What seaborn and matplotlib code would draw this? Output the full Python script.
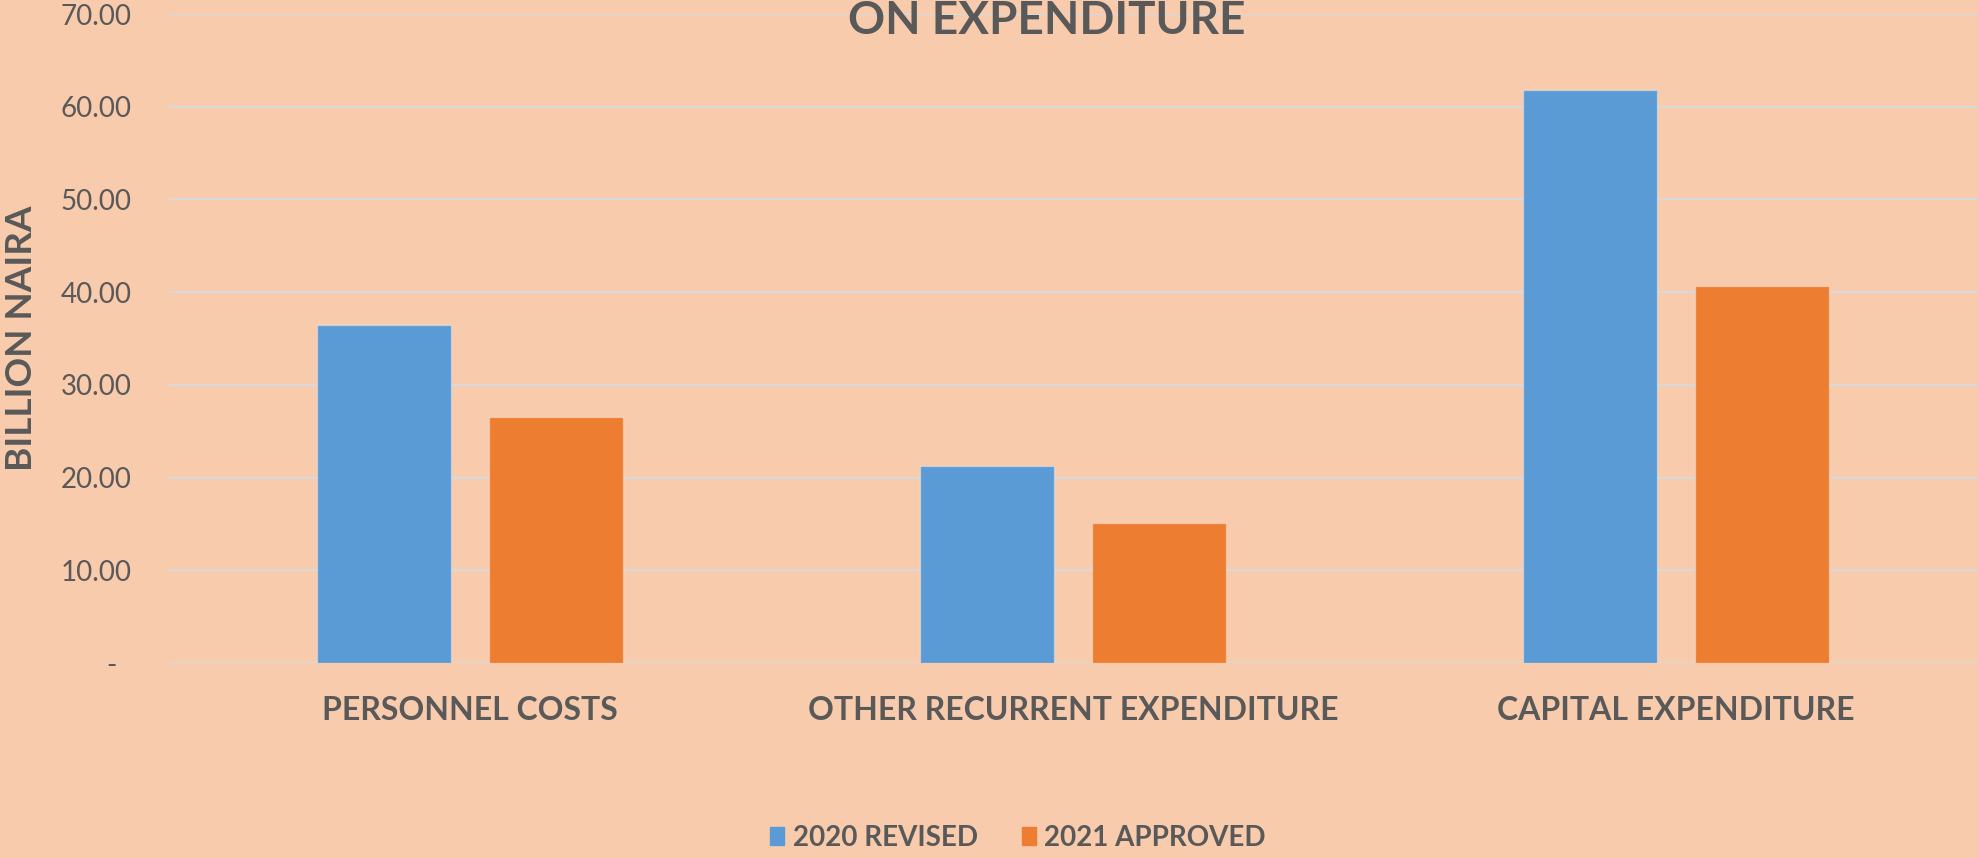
import pandas as pd
import matplotlib
matplotlib.use("Agg")
import matplotlib.pyplot as plt
import seaborn as sns

# dane z wykresu (mld NGN)
kategorie = ["PERSONNEL COSTS", "OTHER RECURRENT EXPENDITURE", "CAPITAL EXPENDITURE"]
serie = ["2020 REVISED", "2021 APPROVED"]
revised_2020 = [36.45, 21.2, 61.85]
approved_2021 = [26.5, 15.05, 40.65]
yticks = [0, 10, 20, 30, 40, 50, 60, 70]
ytick_labels = ["-  ", "10.00", "20.00", "30.00", "40.00", "50.00", "60.00", "70.00"]

TLO = "#F8CBAD"
SZARY = "#595959"
kolory = ["#5B9BD5", "#ED7D31"]

df = pd.DataFrame({
    "kategoria": kategorie * 2,
    "rok": [serie[0]] * 3 + [serie[1]] * 3,
    "wartosc": revised_2020 + approved_2021,
})

sns.set_theme(style="white")
plt.rcParams["font.family"] = ["Lato", "DejaVu Sans"]

fig = plt.figure(figsize=(19.77, 8.58), dpi=100, facecolor=TLO)
ax = fig.add_axes([169 / 1977, 1 - 663 / 858, 1 - 169 / 1977, (663 - 14) / 858])
ax.set_facecolor(TLO)

sns.barplot(data=df, x="kategoria", y="wartosc", hue="rok", order=kategorie,
            hue_order=serie, palette=kolory, width=0.57, gap=0.22,
            edgecolor=(1, 1, 1, 0.35), linewidth=1, saturation=1, ax=ax, zorder=3)

ax.set_xlim(-0.5, 2.5)
ax.set_ylim(0, 70)
ax.set_yticks(yticks)
ax.set_yticklabels(ytick_labels)
ax.yaxis.grid(True, color="#D9D9D9", linewidth=1.6, zorder=0)
ax.xaxis.grid(False)
ax.set_axisbelow(True)
for s in ax.spines.values():
    s.set_visible(False)

ax.tick_params(axis="y", length=0, pad=27, labelsize=20, labelcolor=SZARY)
ax.tick_params(axis="x", length=0, pad=24, labelsize=23, labelcolor=SZARY)
for t in ax.get_xticklabels():
    t.set_fontweight("bold")
ax.set_xlabel("")
ax.set_ylabel("")

fig.text(22 / 1977, 1 - 338 / 858, "BILLION NAIRA", rotation=90, ha="center", va="center",
         fontsize=26.5, fontweight="bold", color=SZARY)
fig.text(1047 / 1977, 1 - 34 / 858, "ON EXPENDITURE", ha="center", va="baseline",
         fontsize=33, fontweight="bold", color=SZARY)

ax.get_legend().remove()
uchwyty = [plt.Rectangle((0, 0), 1, 1, color=k) for k in kolory]
fig.legend(uchwyty, serie, loc="center", bbox_to_anchor=(1018 / 1977, 1 - 838 / 858), ncol=2,
           frameon=False, prop={"size": 20, "weight": "bold"}, labelcolor=SZARY,
           handlelength=0.5, handleheight=0.6, handletextpad=0.3, columnspacing=1.6,
           borderpad=0, borderaxespad=0)

fig.savefig("out.png", dpi=100, facecolor=TLO)
